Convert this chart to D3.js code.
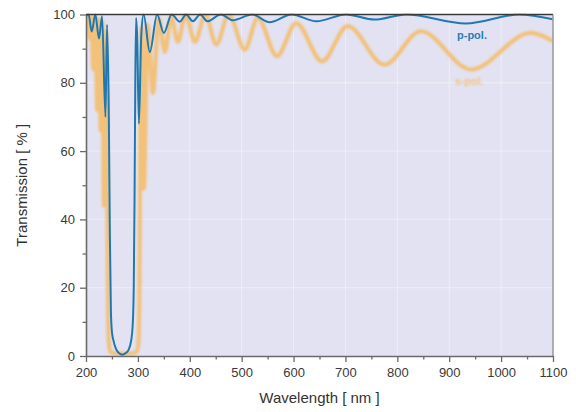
<!DOCTYPE html>
<html>
<head>
<meta charset="utf-8">
<script src="https://cdn.jsdelivr.net/npm/d3@7/dist/d3.min.js"></script>
<style>
  html, body { margin: 0; padding: 0; background: #ffffff; }
  svg { display: block; }
  text { font-family: "Liberation Sans", Arial, sans-serif; }
</style>
</head>
<body>
<svg id="chart" width="576" height="412"></svg>
<script>
// Measured transmission spectra of a dielectric coating, p- and s-polarised light.
const pPolWavelength = [200, 205, 211, 218, 225, 231, 237.5, 240.5, 244, 246, 248, 250, 253, 258, 264, 270, 276, 282, 287, 290, 292, 293.5, 295, 296.5, 298.5, 302, 306.5, 311, 323, 337, 350, 365, 381, 393, 406, 420, 434, 460, 483, 520, 554, 596, 644, 701, 756, 817, 932, 1035, 1100];
const pPolTransmission = [99.5, 100, 95, 100, 93, 99.5, 70, 97, 70, 35, 13, 7, 4.5, 2, 0.8, 0.4, 0.8, 1.8, 4.5, 9, 20, 45, 80, 99, 94, 68, 94, 100, 89, 100, 94.6, 100, 97.9, 100, 98, 100, 98, 100, 98.3, 100, 97.7, 100, 98, 100, 98.5, 100, 97.4, 100, 98.6];

const sPolWavelength = [200, 202.5, 205.8, 210, 214, 218, 221.7, 225, 228.5, 231.5, 234.6, 238, 240, 241.5, 242.5, 244, 247, 255, 272, 290, 298, 301, 302.5, 303.5, 305, 307, 311.5, 318.5, 329, 340, 352, 364, 377, 392, 410, 430, 451, 475, 506, 531, 568, 605, 655, 704, 775, 845, 942, 1057, 1100];
const sPolTransmission = [96, 99.5, 93, 99.5, 84, 99, 72, 98.5, 66, 98, 44, 95, 75, 40, 15, 4, 1.3, 0.8, 0.7, 0.8, 1.3, 4, 15, 40, 75, 96, 49, 97, 77, 99, 89, 99.5, 92, 100, 92, 100, 91.2, 100, 89.7, 99, 87.8, 97.5, 86.3, 96.6, 85.3, 95.1, 83.9, 94.6, 92.2];

const xTicks = [200, 300, 400, 500, 600, 700, 800, 900, 1000, 1100];
const xMinorTicks = [250, 350, 450, 550, 650, 750, 850, 950, 1050];
const yTicks = [0, 20, 40, 60, 80, 100];
const yMinorTicks = [10, 30, 50, 70, 90];

const svg = d3.select("#chart");
const plotLeft = 86, plotRight = 553, plotTop = 14.5, plotBottom = 356;

const x = d3.scaleLinear().domain([200, 1100]).range([plotLeft, plotRight]);
const y = d3.scaleLinear().domain([0, 100]).range([plotBottom, plotTop]);

// plot background
svg.append("rect")
  .attr("x", plotLeft).attr("y", plotTop)
  .attr("width", plotRight - plotLeft).attr("height", plotBottom - plotTop)
  .attr("fill", "#e3e2f2");

// faint grid
const grid = svg.append("g").attr("stroke", "#ffffff").attr("stroke-opacity", 0.4).attr("stroke-width", 1);
grid.selectAll("line.gx").data(xTicks.slice(1, -1)).join("line")
  .attr("x1", d => x(d)).attr("x2", d => x(d)).attr("y1", plotTop).attr("y2", plotBottom);
grid.selectAll("line.gy").data(yTicks.slice(1, -1)).join("line")
  .attr("x1", plotLeft).attr("x2", plotRight).attr("y1", d => y(d)).attr("y2", d => y(d));

const defs = svg.append("defs");
defs.append("clipPath").attr("id", "plotClip")
  .append("rect").attr("x", plotLeft + 0.5).attr("y", plotTop - 1)
  .attr("width", plotRight - plotLeft - 1).attr("height", plotBottom - plotTop + 1);
defs.append("filter").attr("id", "soft").attr("x", "-5%").attr("y", "-5%").attr("width", "110%").attr("height", "110%")
  .append("feGaussianBlur").attr("stdDeviation", 0.8);

const line = d3.line()
  .x(d => x(d[0]))
  .y(d => y(d[1]))
  .curve(d3.curveMonotoneX);

const sData = d3.zip(sPolWavelength, sPolTransmission);
const pData = d3.zip(pPolWavelength, pPolTransmission);

const plot = svg.append("g").attr("clip-path", "url(#plotClip)");
plot.append("path")
  .datum(sData)
  .attr("d", line)
  .attr("fill", "none")
  .attr("stroke", "#f7b552")
  .attr("stroke-opacity", 0.75)
  .attr("stroke-width", 4.2)
  .attr("stroke-linejoin", "round")
  .attr("filter", "url(#soft)");
plot.append("path")
  .datum(pData)
  .attr("d", line)
  .attr("fill", "none")
  .attr("stroke", "#1f78b0")
  .attr("stroke-width", 2)
  .attr("stroke-linejoin", "round");

// frame: dark top edge, grey right edge
svg.append("line").attr("x1", plotLeft).attr("x2", plotRight).attr("y1", plotTop).attr("y2", plotTop)
  .attr("stroke", "#3a3a3a").attr("stroke-width", 1.3);
svg.append("line").attr("x1", plotRight).attr("x2", plotRight).attr("y1", plotTop).attr("y2", plotBottom)
  .attr("stroke", "#8a8a8a").attr("stroke-width", 1.3);

// axes
const axisColor = "#6a6a6a";
function styleAxis(g) {
  g.select(".domain").attr("stroke", axisColor).attr("stroke-width", 1.6);
  g.selectAll(".tick line").attr("stroke", axisColor).attr("stroke-width", 1.3);
  g.selectAll(".tick text").attr("fill", "#3a3a3a").style("font-size", "13px")
    .style("font-family", "'Liberation Sans', Arial, sans-serif");
}

svg.append("g").attr("transform", `translate(0,${plotBottom})`)
  .call(d3.axisBottom(x).tickValues(xMinorTicks).tickSize(3.5).tickFormat(""))
  .call(g => { styleAxis(g); g.select(".domain").remove(); });
svg.append("g").attr("transform", `translate(0,${plotBottom})`)
  .call(d3.axisBottom(x).tickValues(xTicks).tickSize(6).tickSizeOuter(0).tickPadding(6).tickFormat(d3.format("d")))
  .call(styleAxis);

svg.append("g").attr("transform", `translate(${plotLeft},0)`)
  .call(d3.axisLeft(y).tickValues(yMinorTicks).tickSize(3.5).tickFormat(""))
  .call(g => { styleAxis(g); g.select(".domain").remove(); });
svg.append("g").attr("transform", `translate(${plotLeft},0)`)
  .call(d3.axisLeft(y).tickValues(yTicks).tickSize(6).tickSizeOuter(0).tickPadding(5).tickFormat(d3.format("d")))
  .call(styleAxis);

// axis titles
svg.append("text")
  .attr("x", (plotLeft + plotRight) / 2).attr("y", 403)
  .attr("text-anchor", "middle")
  .attr("fill", "#333").style("font-size", "15px")
  .text("Wavelength [ nm ]");
svg.append("text")
  .attr("transform", `translate(27,${(plotTop + plotBottom) / 2}) rotate(-90)`)
  .attr("text-anchor", "middle")
  .attr("fill", "#333").style("font-size", "15px")
  .text("Transmission [ % ]");

// series labels
svg.append("text")
  .attr("x", 457).attr("y", 39)
  .attr("fill", "#2a7db5").style("font-size", "11px").style("font-weight", "bold")
  .text("p-pol.");
svg.append("text")
  .attr("x", 455).attr("y", 85)
  .attr("fill", "#f7b552").attr("fill-opacity", 0.75).attr("filter", "url(#soft)")
  .style("font-size", "10.5px").style("font-weight", "bold")
  .text("s-pol.");
</script>
</body>
</html>
